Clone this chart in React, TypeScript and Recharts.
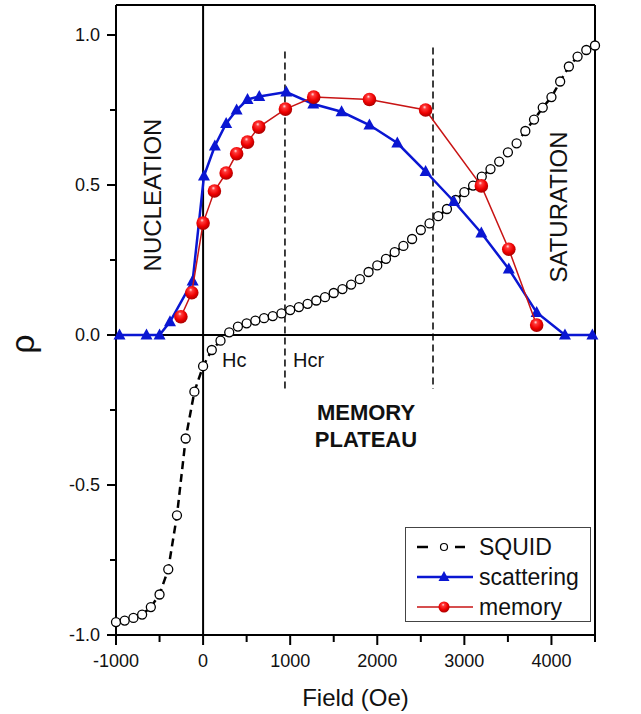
import React from 'react'
import { ScatterChart, Scatter, XAxis, YAxis, ReferenceLine, Legend } from 'recharts'

const FONT = '"Liberation Sans", Arial, Helvetica, sans-serif'

// SQUID magnetization curve, one point every 100 Oe
const squidField = [
  -1000, -900, -800, -700, -600, -500, -400, -300, -200, -100,
  0, 100, 200, 300, 400, 500, 600, 700, 800, 900,
  1000, 1100, 1200, 1300, 1400, 1500, 1600, 1700, 1800, 1900,
  2000, 2100, 2200, 2300, 2400, 2500, 2600, 2700, 2800, 2900,
  3000, 3100, 3200, 3300, 3400, 3500, 3600, 3700, 3800, 3900,
  4000, 4100, 4200, 4300, 4400, 4500,
]
const squidRho = [
  -0.957, -0.952, -0.943, -0.932, -0.907, -0.865, -0.781, -0.601, -0.345, -0.189,
  -0.104, -0.05, -0.019, 0.009, 0.028, 0.039, 0.048, 0.056, 0.063, 0.072,
  0.083, 0.093, 0.104, 0.115, 0.126, 0.14, 0.153, 0.168, 0.186, 0.21,
  0.232, 0.254, 0.276, 0.297, 0.32, 0.35, 0.372, 0.396, 0.42, 0.45,
  0.476, 0.498, 0.528, 0.553, 0.578, 0.609, 0.639, 0.68, 0.718, 0.758,
  0.793, 0.845, 0.895, 0.928, 0.95, 0.965,
]

// scattering
const scatField = [
  -960, -650, -500, -380, -120, 10, 135, 265, 385, 510, 645, 955,
  1265, 1590, 1910, 2230, 2555, 2880, 3195, 3510, 3830, 4155, 4470,
]
const scatRho = [
  0, 0, 0, 0.044, 0.18, 0.53, 0.63, 0.705, 0.75, 0.785, 0.795, 0.81,
  0.77, 0.744, 0.7, 0.64, 0.545, 0.445, 0.34, 0.22, 0.075, 0, 0,
]

// memory
const memField = [-255, -130, 0, 130, 265, 385, 510, 640, 945, 1270, 1910, 2555, 3195, 3510, 3830]
const memRho = [0.061, 0.141, 0.373, 0.48, 0.54, 0.604, 0.643, 0.693, 0.753, 0.793, 0.785, 0.75, 0.497, 0.286, 0.033]

const xTicks = [-1000, -500, 0, 500, 1000, 1500, 2000, 2500, 3000, 3500, 4000, 4500]
const yTicks = [-1, -0.75, -0.5, -0.25, 0, 0.25, 0.5, 0.75, 1]

const hc = 940 // Hcr line
const hsat = 2640

const squid = squidField.map((x, i) => ({ x, y: squidRho[i] }))
const scattering = scatField.map((x, i) => ({ x, y: scatRho[i] }))
const memory = memField.map((x, i) => ({ x, y: memRho[i] }))

const BLUE = '#0a16d2'
const RED_LINE = '#c81414'

const isMajorX = (v: number) => v % 1000 === 0
const isMajorY = (v: number) => Math.abs(v * 2 - Math.round(v * 2)) < 1e-6

const tickText = { fontFamily: FONT, fontSize: 18, fill: '#111' }

const LeftTick = (p: any) => {
  const v = p.payload.value
  const major = isMajorY(v)
  return (
    <g>
      <line x1={p.x} y1={p.y} x2={p.x - (major ? 9 : 6)} y2={p.y} stroke="#000" strokeWidth={2} />
      {major && (
        <text x={p.x - 16} y={p.y} dy="0.35em" textAnchor="end" {...tickText}>
          {v.toFixed(1)}
        </text>
      )}
    </g>
  )
}

const RightTick = (p: any) => {
  const v = p.payload.value
  const major = isMajorY(v)
  return (
    <g>
      <line x1={p.x} y1={p.y} x2={p.x - (major ? 9 : 6)} y2={p.y} stroke="#000" strokeWidth={2} />
      {major && (
        <text x={p.x + 10} y={p.y} dy="0.35em" textAnchor="start" {...tickText}>
          {v.toFixed(1)}
        </text>
      )}
    </g>
  )
}

const BottomTick = (p: any) => {
  const v = p.payload.value
  const major = isMajorX(v)
  return (
    <g>
      <line x1={p.x} y1={p.y} x2={p.x} y2={p.y + (major ? 10 : 7)} stroke="#000" strokeWidth={2} />
      {major && v < 4500 && (
        <text x={p.x} y={p.y + 32} textAnchor="middle" {...tickText}>
          {v}
        </text>
      )}
    </g>
  )
}

const TopTick = (p: any) => {
  const v = p.payload.value
  const major = isMajorX(v)
  return <line x1={p.x} y1={p.y} x2={p.x} y2={p.y + (major ? 10 : 7)} stroke="#000" strokeWidth={2} />
}

const OpenCircle = (p: any) => (
  <circle cx={p.cx} cy={p.cy} r={4.5} fill="#fff" stroke="#000" strokeWidth={1.3} />
)

const Triangle = (p: any) => (
  <polygon
    points={`${p.cx},${p.cy - 6.5} ${p.cx - 6},${p.cy + 4.5} ${p.cx + 6},${p.cy + 4.5}`}
    fill={BLUE}
  />
)

const Ball = (p: any) => <circle cx={p.cx} cy={p.cy} r={6.8} fill="url(#ballGrad)" />

function LegendBox() {
  const text = { fontFamily: FONT, fontSize: 23, fill: '#111' }
  return (
    <svg width={187} height={96} style={{ display: 'block' }}>
      <rect x={0.5} y={0.5} width={185} height={94} fill="#fff" stroke="#444" strokeWidth={1} />
      <line x1={12} y1={20} x2={23} y2={20} stroke="#000" strokeWidth={2.5} />
      <circle cx={39} cy={20} r={3.5} fill="#fff" stroke="#000" strokeWidth={1.2} />
      <line x1={50} y1={20} x2={60} y2={20} stroke="#000" strokeWidth={2.5} />
      <text x={74} y={28} {...text}>SQUID</text>

      <line x1={12} y1={50} x2={68} y2={50} stroke={BLUE} strokeWidth={2.5} />
      <polygon points="39,44 33.5,54 44.5,54" fill={BLUE} />
      <text x={74} y={58} {...text}>scattering</text>

      <line x1={12} y1={80} x2={68} y2={80} stroke={RED_LINE} strokeWidth={1.5} />
      <circle cx={39} cy={80} r={5.5} fill="url(#ballGrad)" />
      <text x={74} y={88} {...text}>memory</text>
    </svg>
  )
}

export default function App() {
  const label = { fontFamily: FONT, fill: '#111' }
  return (
    <div style={{ position: 'absolute', left: 0, top: 0, background: '#fff' }}>
      <ScatterChart width={641} height={714} margin={{ top: 0, right: 0, bottom: 0, left: 0 }}>
        <defs>
          <radialGradient id="ballGrad" cx="45%" cy="40%" r="60%" fx="42%" fy="28%">
            <stop offset="0%" stopColor="#ffe2e2" />
            <stop offset="22%" stopColor="#ff3a3a" />
            <stop offset="65%" stopColor="#ee0000" />
            <stop offset="100%" stopColor="#a80000" />
          </radialGradient>
        </defs>
        <XAxis
          xAxisId="bottom"
          type="number"
          dataKey="x"
          domain={[-1000, 4500]}
          ticks={xTicks}
          interval={0}
          height={79}
          tickSize={0}
          tickMargin={0}
          tickLine={false}
          axisLine={{ stroke: '#000', strokeWidth: 2 }}
          tick={BottomTick}
          label={{ value: 'Field (Oe)', position: 'insideBottom', offset: 8, style: { ...label, fontSize: 24 } }}
        />
        <XAxis
          xAxisId="top"
          orientation="top"
          type="number"
          domain={[-1000, 4500]}
          ticks={xTicks}
          interval={0}
          height={5}
          tickSize={0}
          tickMargin={0}
          tickLine={false}
          axisLine={{ stroke: '#000', strokeWidth: 2 }}
          tick={TopTick}
        />
        <YAxis
          yAxisId="left"
          type="number"
          dataKey="y"
          domain={[-1, 1.1]}
          ticks={yTicks}
          interval={0}
          width={116}
          tickSize={0}
          tickMargin={0}
          tickLine={false}
          axisLine={{ stroke: '#000', strokeWidth: 2 }}
          tick={LeftTick}
          label={{
            content: () => (
              <text transform="translate(22,344) rotate(-90)" textAnchor="middle" dy="0.35em" {...label} fontSize={34}>
                ρ
              </text>
            ),
          }}
        />
        <YAxis
          yAxisId="right"
          orientation="right"
          type="number"
          domain={[-1, 1.1]}
          ticks={yTicks}
          interval={0}
          width={46}
          tickSize={0}
          tickMargin={0}
          tickLine={false}
          axisLine={{ stroke: '#000', strokeWidth: 2 }}
          tick={RightTick}
        />

        <ReferenceLine xAxisId="bottom" yAxisId="left" x={0} stroke="#000" strokeWidth={2} />
        <ReferenceLine xAxisId="bottom" yAxisId="left" y={0} stroke="#000" strokeWidth={2} />
        <ReferenceLine
          xAxisId="bottom"
          yAxisId="left"
          segment={[{ x: hc, y: 0.945 }, { x: hc, y: -0.19 }]}
          stroke="#000"
          strokeWidth={1.5}
          strokeDasharray="7 4"
        />
        <ReferenceLine
          xAxisId="bottom"
          yAxisId="left"
          segment={[{ x: hsat, y: 0.958 }, { x: hsat, y: -0.18 }]}
          stroke="#000"
          strokeWidth={1.5}
          strokeDasharray="7 4"
        />

        <Scatter
          name="SQUID"
          data={squid}
          xAxisId="bottom"
          yAxisId="left"
          line={{ stroke: '#000', strokeWidth: 2.5, strokeDasharray: '8 5' }}
          lineType="joint"
          shape={OpenCircle}
          isAnimationActive={false}
        />
        <Scatter
          name="scattering"
          data={scattering}
          xAxisId="bottom"
          yAxisId="left"
          line={{ stroke: BLUE, strokeWidth: 2.5 }}
          lineType="joint"
          shape={Triangle}
          isAnimationActive={false}
        />
        <Scatter
          name="memory"
          data={memory}
          xAxisId="bottom"
          yAxisId="left"
          line={{ stroke: RED_LINE, strokeWidth: 1.5 }}
          lineType="joint"
          shape={Ball}
          isAnimationActive={false}
        />

        <Legend
          layout="vertical"
          align="center"
          verticalAlign="middle"
          content={() => <LegendBox />}
          wrapperStyle={{ left: 405, top: 527, width: 187, height: 96 }}
        />

        <text transform="translate(153,195) rotate(-90)" textAnchor="middle" dy="0.35em" {...label} fontSize={24}>
          NUCLEATION
        </text>
        <text transform="translate(559,207) rotate(-90)" textAnchor="middle" dy="0.35em" {...label} fontSize={24}>
          SATURATION
        </text>
        <text x={366} y={420} textAnchor="middle" {...label} fontSize={22} fontWeight="bold">
          MEMORY
        </text>
        <text x={366} y={447} textAnchor="middle" {...label} fontSize={22} fontWeight="bold">
          PLATEAU
        </text>
        <text x={222} y={367} {...label} fontSize={20}>Hc</text>
        <text x={293} y={367} {...label} fontSize={20}>Hcr</text>
      </ScatterChart>
    </div>
  )
}
